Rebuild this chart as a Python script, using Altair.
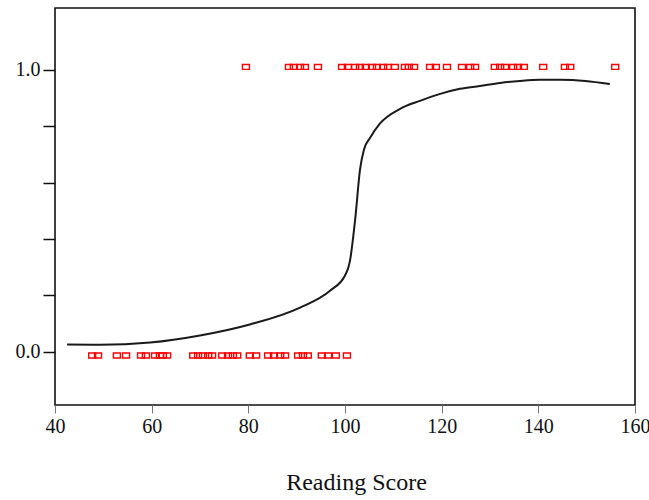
import altair as alt
import pandas as pd

# Observed outcomes (y = 1)
score_pass = [79.5, 88.4, 89.4, 90.7, 91.7, 94.4, 99.4, 100.6, 102.1, 103.1,
              104.3, 105.6, 106.6, 107.9, 108.9, 110.3, 112.4, 113.2, 114.3,
              117.6, 118.8, 121.1, 124.2, 125.9, 126.9, 131.0, 132.1, 133.1,
              134.8, 135.8, 137.0, 141.0, 145.5, 146.6, 155.9]
# Observed outcomes (y = 0)
score_fail = [47.7, 48.9, 52.8, 54.7, 57.8, 58.8, 60.7, 61.7, 62.3, 63.2,
              68.6, 69.6, 70.6, 71.7, 72.5, 74.6, 75.8, 76.8, 77.7, 80.3,
              81.6, 84.1, 85.3, 86.6, 87.6, 90.3, 91.3, 92.3, 95.2, 96.5,
              98.1, 100.4]

# Fitted curve
curve_x = [42.5, 49.3, 59.7, 70.0, 80.3, 90.7, 96.9, 100.0, 101.0, 102.1,
           103.1, 103.9, 105.2, 107.2, 111.4, 115.5, 119.7, 123.8, 127.9,
           132.1, 136.2, 140.3, 144.5, 149.7, 154.8]
curve_y = [0.025, 0.024, 0.032, 0.057, 0.096, 0.156, 0.216, 0.270, 0.319,
           0.468, 0.645, 0.716, 0.759, 0.809, 0.862, 0.890, 0.915, 0.933,
           0.943, 0.954, 0.961, 0.965, 0.965, 0.961, 0.950]

x_ticks = [40, 60, 80, 100, 120, 140, 160]
y_ticks = [0.0, 0.2, 0.4, 0.6, 0.8, 1.0]

pass_df = pd.DataFrame({"score": score_pass, "outcome": [1] * len(score_pass)})
fail_df = pd.DataFrame({"score": score_fail, "outcome": [0] * len(score_fail)})
curve = pd.DataFrame({"score": curve_x, "p": curve_y})

FONT = "Liberation Serif"

x_scale = alt.Scale(domain=[40, 160], nice=False, zero=False)
y_scale = alt.Scale(domain=[-0.19, 1.22], nice=False, zero=False)

x_axis = alt.Axis(values=x_ticks, title="Reading Score", grid=False,
                  domain=False, tickSize=8, tickColor="#777", tickWidth=1,
                  labelFont=FONT, labelFontSize=20, labelColor="#111",
                  labelPadding=3, titleFont=FONT, titleFontSize=24,
                  titleFontWeight="normal", titleColor="#111",
                  titlePadding=34, titleX=301, labelFlush=False)
y_axis = alt.Axis(values=y_ticks, title=None, grid=False, domain=False,
                  tickSize=12, tickColor="#111", tickWidth=1.5,
                  labelFont=FONT, labelFontSize=20, labelColor="#111",
                  labelPadding=3, format=".1f",
                  labelExpr="(datum.value == 0 || datum.value == 1) ? datum.label : ''")

line = alt.Chart(curve).mark_line(color="#1a1a1a", strokeWidth=2,
                                  interpolate="monotone").encode(
    x=alt.X("score:Q", scale=x_scale, axis=x_axis),
    y=alt.Y("p:Q", scale=y_scale, axis=y_axis),
    order="score:Q",
)

SHAPE = "M-1,-0.7L1,-0.7L1,0.7L-1,0.7Z"


def pts_layer(df, off):
    return alt.Chart(df).mark_point(
        shape=SHAPE, size=49, filled=False, color="#ff0000",
        strokeWidth=1.4, opacity=1, yOffset=off,
    ).encode(
        x=alt.X("score:Q", scale=x_scale),
        y=alt.Y("outcome:Q", scale=y_scale),
    )


chart = alt.layer(line, pts_layer(pass_df, -3), pts_layer(fail_df, 4)).properties(
    width=580, height=397,
    padding={"left": 55, "top": 8, "right": 14, "bottom": 95},
    autosize=alt.AutoSizeParams(type="none"),
    background="white",
).configure_view(stroke="#111", strokeWidth=1.6)

chart.save("out.html", embed_options={"renderer": "svg", "actions": False})
